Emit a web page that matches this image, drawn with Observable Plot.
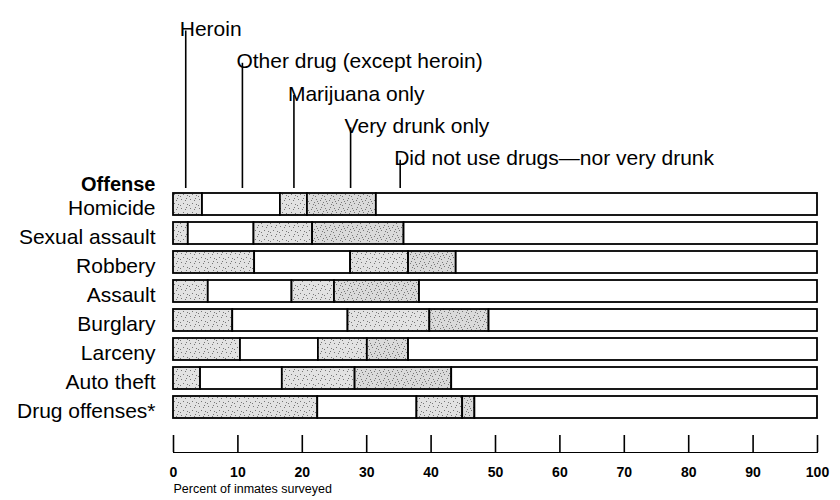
<!DOCTYPE html>
<html>
<head>
<meta charset="utf-8">
<script src="https://cdn.jsdelivr.net/npm/d3@7"></script>
<script src="https://cdn.jsdelivr.net/npm/@observablehq/plot@0.6"></script>
<style>
  html, body { margin: 0; padding: 0; background: #fff; }
  #chart { width: 840px; height: 500px; }
</style>
</head>
<body>
<div id="chart"></div>
<script>
const offenses = ["Homicide", "Sexual assault", "Robbery", "Assault", "Burglary", "Larceny", "Auto theft", "Drug offenses*"];
const categories = ["Heroin", "Other drug (except heroin)", "Marijuana only", "Very drunk only", "Did not use drugs\u2014nor very drunk"];
const heroin     = [4.5, 2.3, 12.6, 5.4, 9.2, 10.4, 4.2, 22.4];
const otherDrug  = [12.1, 10.2, 14.9, 13.0, 17.9, 12.1, 12.7, 15.4];
const marijuana  = [4.2, 9.1, 9.0, 6.6, 12.7, 7.6, 11.3, 7.1];
const veryDrunk  = [10.7, 14.2, 7.4, 13.2, 9.2, 6.4, 15.0, 1.9];
const noDrugs    = [68.5, 64.2, 56.1, 61.8, 51.0, 63.5, 56.8, 53.2];
const legendAt   = [1.9, 10.7, 18.7, 27.5, 35.2];
const xTicks     = [0, 10, 20, 30, 40, 50, 60, 70, 80, 90, 100];

const series = [heroin, otherDrug, marijuana, veryDrunk, noDrugs];
const data = [];
offenses.forEach((o, i) => {
  categories.forEach((c, j) => data.push({offense: o, category: c, value: series[j][i]}));
});

const W = 840, H = 500, mT = 188, mB = 48, mL = 173, mR = 23;
const frameH = H - mT - mB;
const font = "'Liberation Sans', Arial, Helvetica, sans-serif";

const legendMarks = [];
categories.forEach((c, i) => {
  const cy = 20.5 + 32.3 * i;
  legendMarks.push(Plot.ruleX([legendAt[i]], {x: d => d, stroke: "black", strokeWidth: 1.6,
    insetTop: -(mT - (cy + 10)), insetBottom: frameH}));
  legendMarks.push(Plot.text([c], {x: () => legendAt[i], text: d => d, frameAnchor: "top",
    dy: cy - mT, dx: -6, textAnchor: "start", fontSize: 21, fontWeight: "normal", fill: "black"}));
});

const chart = Plot.plot({
  width: W, height: H,
  marginTop: mT, marginBottom: mB, marginLeft: mL, marginRight: mR,
  style: {fontFamily: font, fontSize: "14px", fontWeight: "bold", background: "white", color: "black"},
  x: {domain: [0, 100], ticks: xTicks, tickSize: 0, tickPadding: 15, line: true, label: null},
  y: {domain: offenses, range: [190, 420], paddingInner: 0.25, paddingOuter: 0, axis: null},
  color: {domain: categories, range: ["url(#stip1)", "white", "url(#stip1)", "url(#stip2)", "white"]},
  marks: [
    Plot.barX(data, {y: "offense", x: "value", fill: "category", stroke: "black", strokeWidth: 1.8}),
    Plot.ruleX(xTicks, {x: d => d, stroke: "black", strokeWidth: 1.6, insetTop: frameH - 17}),
    Plot.text(offenses, {y: d => d, text: d => d, frameAnchor: "left", dx: -18, dy: 4, textAnchor: "end",
      fontSize: 21, fontWeight: "normal", fill: "black"}),
    Plot.text(["Offense"], {text: d => d, frameAnchor: "top-left", dx: -18, dy: -12, textAnchor: "end",
      fontSize: 20, fontWeight: "bold", fill: "black"}),
    Plot.text(["Percent of inmates surveyed"], {text: d => d, frameAnchor: "bottom-left", dy: 40,
      textAnchor: "start", fontSize: 12.5, fontWeight: "normal", fill: "black"}),
    ...legendMarks
  ]
});

// stipple textures for the shaded segments
const defs = d3.select(chart).insert("defs", ":first-child");
function stipple(id, bg, dots) {
  const p = defs.append("pattern").attr("id", id).attr("patternUnits", "userSpaceOnUse")
    .attr("width", 9).attr("height", 9);
  p.append("rect").attr("width", 9).attr("height", 9).attr("fill", bg);
  dots.forEach(([x, y]) => p.append("rect").attr("x", x).attr("y", y).attr("width", 1).attr("height", 1).attr("fill", "#777"));
}
stipple("stip1", "#e2e2e2", [[1,1],[5,2],[3,5],[7,6],[0,7],[6,0]]);
stipple("stip2", "#dadada", [[1,1],[5,2],[3,5],[7,6],[0,7],[6,0],[2,3],[8,4]]);

document.getElementById("chart").appendChild(chart);
</script>
</body>
</html>
